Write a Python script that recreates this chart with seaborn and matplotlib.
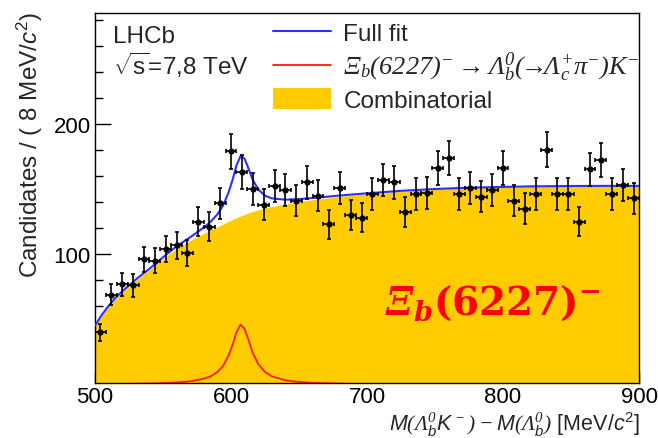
import numpy as np
import matplotlib
matplotlib.use("Agg")
import matplotlib.pyplot as plt
from matplotlib.lines import Line2D
from matplotlib.patches import Patch
from matplotlib.ticker import MultipleLocator, FixedLocator
import seaborn as sns

# Binned data: M(Lambda_b K) - M(Lambda_b) in 8 MeV bins
bin_centers = [504, 512, 520, 528, 536, 544, 552, 560, 568, 576,
               584, 592, 600, 608, 616, 624, 632, 640, 648, 656,
               664, 672, 680, 688, 696, 704, 712, 720, 728, 736,
               744, 752, 760, 768, 776, 784, 792, 800, 808, 816,
               824, 832, 840, 848, 856, 864, 872, 880, 888, 896]
counts = [40, 69, 77, 76, 96, 95, 104, 107, 101, 125,
          121, 139, 179, 163, 150, 138, 152, 149, 141, 155,
          145, 123, 151, 130, 128, 146, 157, 155, 132, 146,
          147, 166, 174, 146, 151, 144, 149, 166, 141, 135,
          146, 180, 146, 146, 125, 165, 172, 146, 153, 143]
bin_half_width = 4

# Fit components sampled along the mass axis
curve_mass = [500, 505, 510, 515, 520, 530, 540, 550, 560, 570,
              580, 585, 590, 594, 598, 601, 604, 607, 610, 613,
              616, 620, 625, 630, 640, 650, 660, 680, 700, 725,
              750, 775, 800, 825, 850, 875, 900]
combinatorial = [45, 53, 60, 66, 71, 80, 88, 96.5, 104.5, 110.5,
                 116, 118.5, 121, 123, 125, 126.5, 128, 129.3, 130.5, 131.7,
                 132.8, 134, 135.3, 136.5, 138.5, 140.3, 141.8, 144.3, 146.3, 148.3,
                 149.8, 150.8, 151.5, 152, 152.2, 152.3, 152.3]
signal = [0.3, 0.4, 0.4, 0.5, 0.5, 0.6, 0.8, 1.1, 1.6, 2.5,
          4.5, 6.3, 9.6, 14, 21.8, 30, 40, 46, 42.7, 33.6,
          24.3, 15.7, 9.6, 6.3, 3.3, 2.0, 1.3, 0.7, 0.4, 0.3,
          0.2, 0.2, 0.1, 0.1, 0.1, 0.1, 0.1]
full_fit = [b + s for b, s in zip(combinatorial, signal)]

legend_labels = [
    "Full fit",
    r"$\mathcal{\Xi_b(6227)^{-}\rightarrow\Lambda_b^0(\!\!\rightarrow\!\!\Lambda_c^{+}\pi^{-})K^{-}}$",
    "Combinatorial",
]

sns.set_style("ticks")
plt.rcParams.update({
    "font.family": ["Liberation Sans", "DejaVu Sans"],
    "mathtext.fontset": "custom",
    "mathtext.rm": "Liberation Serif:italic",
    "mathtext.it": "Liberation Sans:italic",
    "mathtext.sf": "Liberation Sans",
    "mathtext.cal": "Liberation Serif:italic",
    "mathtext.bf": "DejaVu Serif:bold",
    "mathtext.tt": "DejaVu Serif:bold:italic",
    "axes.linewidth": 1.0,
    "axes.edgecolor": "black",
})

yellow = "#FFCC00"
blue = "#2E2EFF"
red = "#FF1A00"

fig = plt.figure(figsize=(6.58, 4.39), dpi=100)
ax = fig.add_axes([95 / 658, (439 - 384) / 439, 544 / 658, 370 / 439])

ax.fill_between(curve_mass, 0, combinatorial, color=yellow, lw=0, zorder=1)
sns.lineplot(x=curve_mass, y=signal, ax=ax, color=red, lw=1.3,
             estimator=None, sort=False, legend=False, zorder=2)
sns.lineplot(x=curve_mass, y=full_fit, ax=ax, color=blue, lw=1.5,
             estimator=None, sort=False, legend=False, zorder=3)

ax.errorbar(bin_centers, counts, yerr=np.sqrt(counts), xerr=bin_half_width,
            fmt="none", ecolor="black", elinewidth=1.2, capsize=1.6,
            capthick=1.2, zorder=4)
sns.scatterplot(x=bin_centers, y=counts, ax=ax, color="black", s=20,
                marker="o", edgecolor="black", linewidth=0, zorder=5,
                legend=False)

ax.set_xlim(500, 900)
ax.set_ylim(1.2, 285)
ax.xaxis.set_major_locator(MultipleLocator(100))
ax.xaxis.set_minor_locator(MultipleLocator(20))
ax.yaxis.set_major_locator(FixedLocator([100, 200]))
ax.yaxis.set_minor_locator(MultipleLocator(20))
ax.tick_params(which="both", direction="in", top=False, right=False,
               labelsize=16, colors="black")
ax.tick_params(axis="x", which="major", length=8, width=1, pad=2)
ax.tick_params(axis="x", which="minor", length=4, width=1)
ax.tick_params(axis="y", which="major", length=11.5, width=1, pad=3)
ax.tick_params(axis="y", which="minor", length=5.8, width=1)
for side in ("top", "right", "bottom", "left"):
    ax.spines[side].set_visible(True)

ax.set_xlabel(r"$M(\Lambda_b^0K^-) - M(\Lambda_b^0)$ [MeV/$c^{\mathsf{2}}$]",
              fontsize=15.5, ha="right")
ax.xaxis.set_label_coords(1.003, -0.071)
ax.set_ylabel(r"Candidates / ( 8 MeV/$c^{\mathsf{2}}$)", fontsize=17.5,
              ha="right", rotation_mode="anchor")
ax.yaxis.set_label_coords(-0.12, 1.005)
ax.yaxis.label.set_verticalalignment("center")

ax.text(0.033, 0.922, "LHCb", transform=ax.transAxes, fontsize=17.5,
        ha="left", va="baseline")
ax.text(0.033, 0.835, r"$\sqrt{\mathsf{s}}$=7,8 TeV", transform=ax.transAxes,
        fontsize=17.5, ha="left", va="baseline")

handles = [Line2D([], [], color=blue, lw=1.5),
           Line2D([], [], color=red, lw=1.3),
           Patch(facecolor=yellow, edgecolor="none")]
leg = ax.legend(handles, legend_labels, loc="upper left",
                bbox_to_anchor=(0.327, 0.978), borderpad=0, borderaxespad=0,
                handlelength=2.4, handleheight=0.95, handletextpad=0.5,
                labelspacing=0.2, fontsize=17.5, frameon=False)
leg.get_texts()[1].set_fontsize(19)

ax.text(0.533, 0.186, r"$\mathtt{\Xi_b}\mathbf{(6227)}^{\mathbf{-}}$",
        transform=ax.transAxes, fontsize=28, color="#FF0000",
        ha="left", va="baseline", zorder=6)

fig.savefig("out.png", dpi=100)
